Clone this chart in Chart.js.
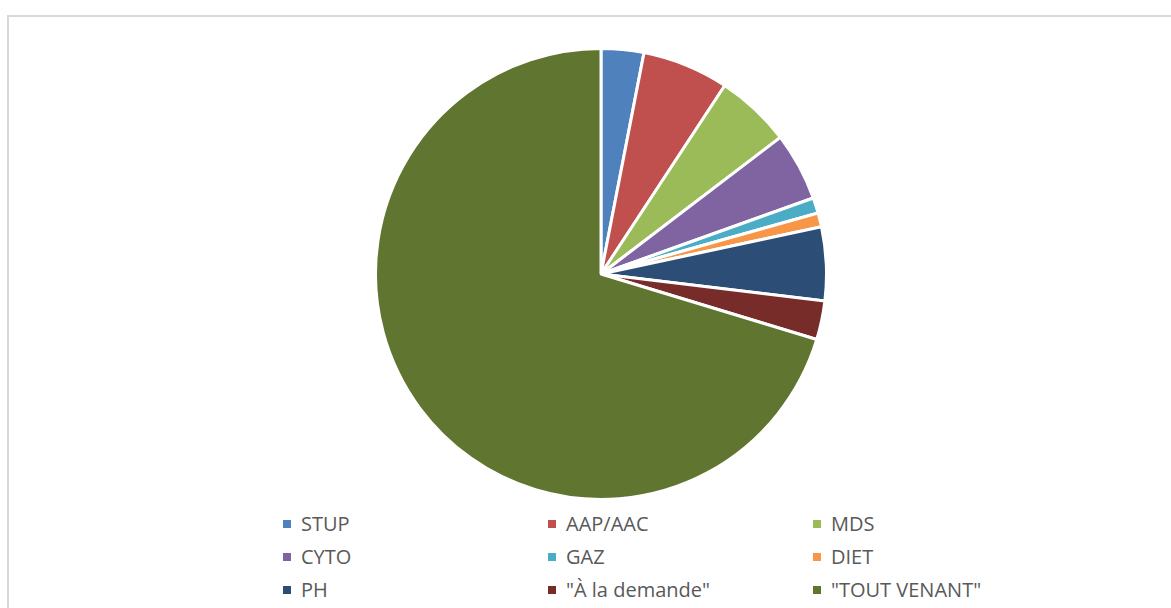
<!DOCTYPE html>
<html>
<head>
<meta charset="utf-8">
<script src="https://cdn.jsdelivr.net/npm/chart.js@4"></script>
<style>
  html, body { margin: 0; padding: 0; background: #fff; width: 1171px; height: 608px; overflow: hidden; }
  #frame { position: absolute; left: 7px; top: 15px; width: 1200px; height: 700px; border-left: 2px solid #d9d9d9; border-top: 2px solid #d9d9d9; }
  #wrap { position: absolute; left: 374px; top: 47px; width: 454px; height: 454px; }
  #legend { position: absolute; left: 0; top: 0; }
  .item { position: absolute; font-family: "Open Sans", sans-serif; font-size: 20px; color: #595959; white-space: nowrap; line-height: 24px; }
  .box { position: absolute; width: 8px; height: 8px; }
</style>
</head>
<body>
<div id="frame"></div>
<div id="wrap"><canvas id="c"></canvas></div>
<div id="legend"></div>
<script>
const categories = ["STUP", "AAP/AAC", "MDS", "CYTO", "GAZ", "DIET", "PH", "\"À la demande\"", "\"TOUT VENANT\""];
const values = [11, 22.3, 19.4, 17.6, 4, 3.6, 19, 10, 253.1];
const colors = ["#4F81BD", "#C0504D", "#9BBB59", "#8064A2", "#4BACC6", "#F79646", "#2C4D75", "#772C2A", "#5F7530"];

const chart = new Chart(document.getElementById('c'), {
  type: 'pie',
  data: {
    labels: categories,
    datasets: [{
      data: values,
      backgroundColor: colors,
      borderColor: '#ffffff',
      borderWidth: 3
    }]
  },
  options: {
    responsive: true,
    maintainAspectRatio: false,
    animation: false,
    layout: { padding: 0 },
    plugins: {
      legend: { display: false },
      tooltip: { enabled: false }
    }
  }
});

// HTML legend built from the chart's data, laid out in 3 columns
const legend = document.getElementById('legend');
const colX = [283, 548, 813];
const rowY = [524, 557, 590];
chart.data.labels.forEach((lab, i) => {
  const col = i % 3, row = Math.floor(i / 3);
  const box = document.createElement('div');
  box.className = 'box';
  box.style.left = colX[col] + 'px';
  box.style.top = (rowY[row] - 4) + 'px';
  box.style.background = chart.data.datasets[0].backgroundColor[i];
  legend.appendChild(box);
  const t = document.createElement('div');
  t.className = 'item';
  t.textContent = lab;
  t.style.left = (colX[col] + 18) + 'px';
  t.style.top = (rowY[row] - 12) + 'px';
  legend.appendChild(t);
});
</script>
</body>
</html>
